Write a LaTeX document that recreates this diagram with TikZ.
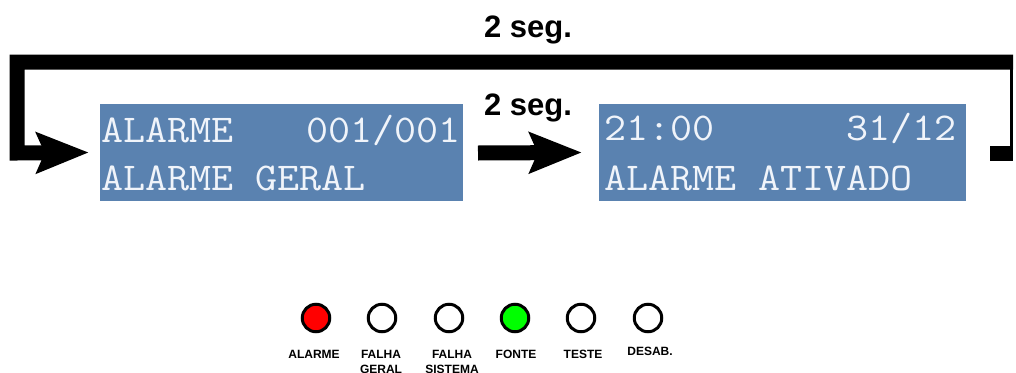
\documentclass[tikz,border=0pt]{standalone}
\usepackage{fontspec}
\setmainfont{Liberation Sans}
\usetikzlibrary{arrows.meta}

\definecolor{lcdblue}{RGB}{90,130,176}
\definecolor{lcdtext}{RGB}{240,244,250}
\definecolor{ledred}{RGB}{255,0,0}
\definecolor{ledgreen}{RGB}{0,255,0}

\newcommand\lcdtxt[1]{\scalebox{1}[0.92]{\fontsize{42.8pt}{48pt}\ttfamily #1}}

\tikzset{
  lcd/.style={rectangle, fill=lcdblue, draw=none, inner sep=0pt, minimum height=97pt},
  lcdline/.style={text=lcdtext, inner sep=0pt},
  flow/.style={line width=15pt, line cap=butt, line join=miter,
    -{Stealth[length=52pt 0 0, width=40pt 0 0, inset=8pt 0 0]}},
  barline/.style={line width=15pt, line cap=butt, line join=miter},
  delay/.style={font=\bfseries\fontsize{31pt}{36pt}\selectfont, inner sep=0pt},
  led/.style={circle, draw=black, line width=3pt, minimum size=27.5pt, inner sep=0pt},
  ledlabel/.style={font=\bfseries\fontsize{12pt}{15pt}\selectfont, align=center, inner sep=0pt},
}

\begin{document}
\begin{tikzpicture}[x=1pt, y=-1pt]
\useasboundingbox (0,0) rectangle (1016,372);

% display screens
\node[lcd, minimum width=363pt] (box1) at (281.5,152.5) {};
\node[lcd, minimum width=367pt] (box2) at (782.5,152.5) {};

\node[lcdline, anchor=base west] (b1a) at (101,142) {\lcdtxt{ALARME}};
\node[lcdline, anchor=base east] (b1b) at (461,142) {\lcdtxt{001/001}};
\node[lcdline, anchor=base west] (b1c) at (101,190) {\lcdtxt{ALARME GERAL}};

\node[lcdline, anchor=base west] (b2a) at (604,140) {\lcdtxt{21:00}};
\node[lcdline, anchor=base east] (b2b) at (957,140) {\lcdtxt{31/12}};
\node[lcdline, anchor=base west] (b2c) at (604,190) {\lcdtxt{ALARME ATIVADO}};

% transition labels
\node[delay, anchor=base] (t1) at (528,37) {2 seg.};
\node[delay, anchor=base] (t2) at (528,115) {2 seg.};

% forward transition
\coordinate (m0) at (478,153);
\draw[flow] (m0) -- ([xshift=-17pt]box2.west);

% return loop
\coordinate (r0) at (990,153);
\coordinate (r1) at (1013,153);
\coordinate (r2) at (1013,62);
\draw[barline] (r0) -- (r1);
\draw[line width=2.5pt] (1011.5,62) -- (1011.5,153);
\draw[flow] (r2) -- (17,62) -- (17,153) -- ([xshift=-11pt]box1.west);

% status indicators
\node[led, fill=ledred]   (led1) at (316,318) {};
\node[led, fill=white]    (led2) at (382,318) {};
\node[led, fill=white]    (led3) at (449,318) {};
\node[led, fill=ledgreen] (led4) at (515,318) {};
\node[led, fill=white]    (led5) at (581,318) {};
\node[led, fill=white]    (led6) at (648,318) {};

% the base of a two-line label is its second line
\node[ledlabel, anchor=base] (lab1) at (314,358) {ALARME};
\node[ledlabel, anchor=base] (lab2) at (381,373) {FALHA\\GERAL};
\node[ledlabel, anchor=base] (lab3) at (452,373) {FALHA\\SISTEMA};
\node[ledlabel, anchor=base] (lab4) at (516,358) {FONTE};
\node[ledlabel, anchor=base] (lab5) at (583,358) {TESTE};
\node[ledlabel, anchor=base] (lab6) at (650,355) {DESAB.};
\end{tikzpicture}
\end{document}
